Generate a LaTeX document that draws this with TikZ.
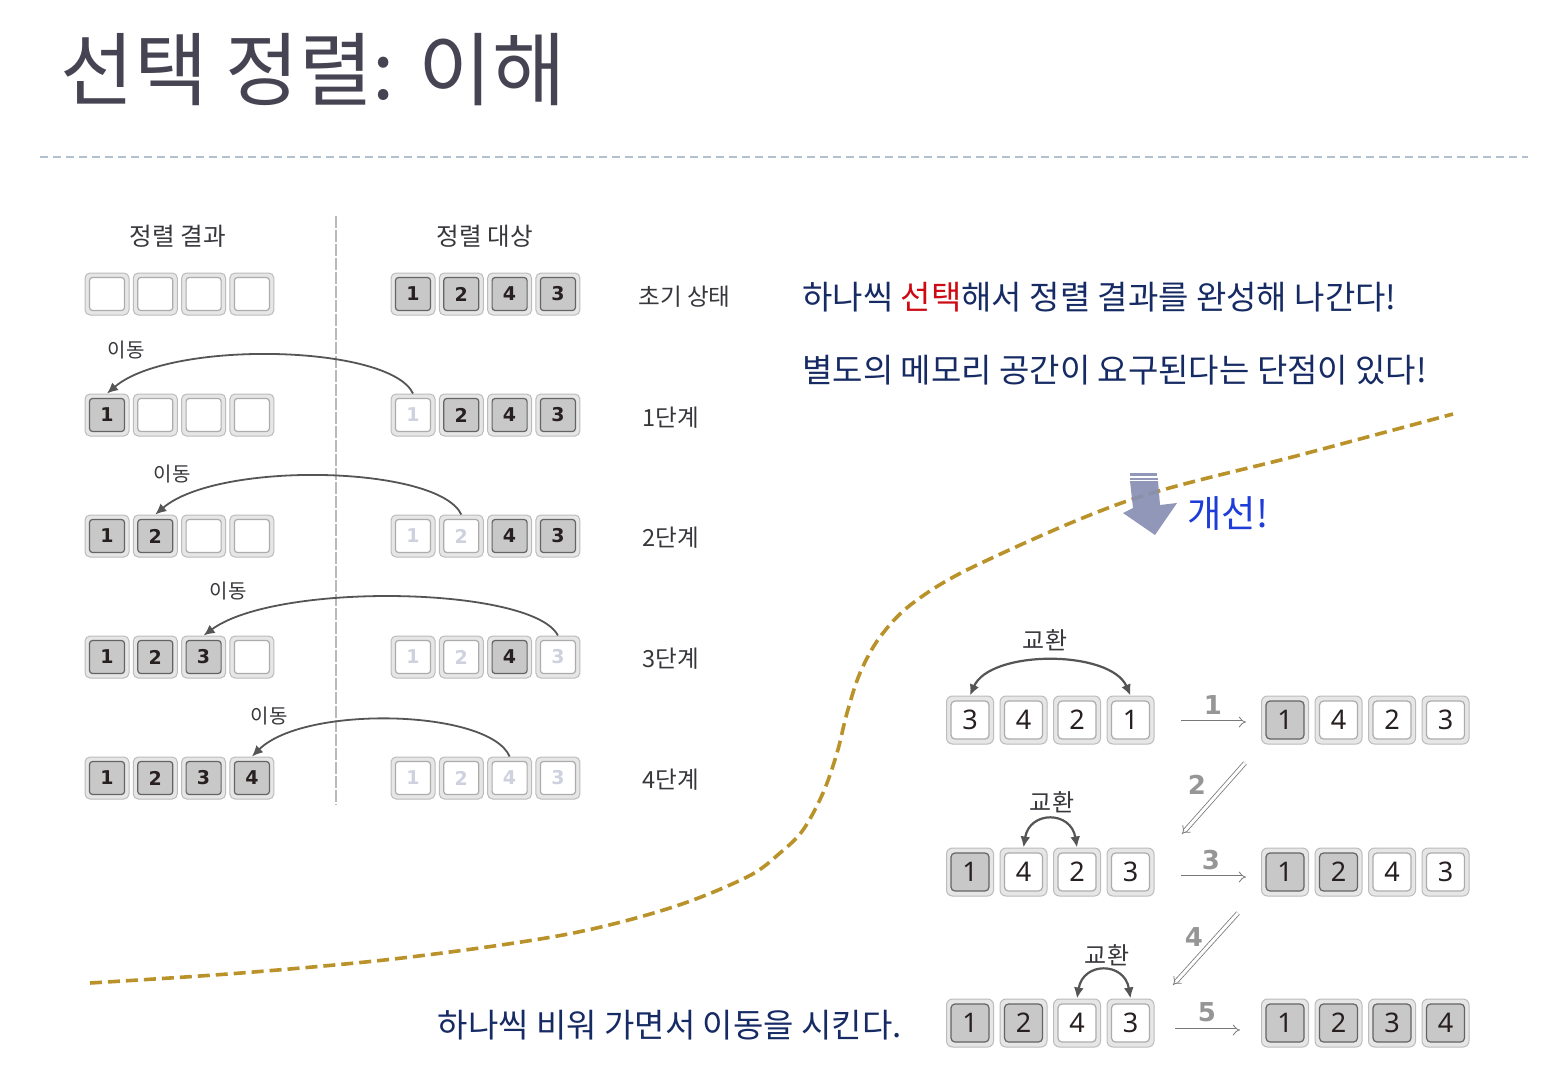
\documentclass[tikz,border=0pt]{standalone}
\usepackage{fontspec}
\setmainfont{Noto Sans CJK KR}
\newfontfamily\numfont{DejaVu Sans}
\newfontfamily\numfontb{Noto Sans}
\usetikzlibrary{arrows.meta}
\definecolor{titlec}{RGB}{70,68,82}
\definecolor{sepc}{RGB}{178,192,208}
\definecolor{navy}{RGB}{22,42,100}
\definecolor{redc}{RGB}{205,10,20}
\definecolor{bluec}{RGB}{30,60,215}
\definecolor{goldc}{RGB}{186,146,42}
\definecolor{arrowc}{RGB}{135,143,180}
\definecolor{txtc}{RGB}{55,55,60}
\definecolor{linec}{RGB}{85,85,85}
\definecolor{outerfill}{RGB}{230,230,230}
\definecolor{outerdraw}{RGB}{188,188,188}
\definecolor{cellgray}{RGB}{200,200,200}
\definecolor{celldark}{RGB}{100,100,100}
\definecolor{celllight}{RGB}{172,172,172}
\definecolor{fadetext}{RGB}{205,210,222}
\definecolor{numdark}{RGB}{40,32,32}
\definecolor{vline}{RGB}{185,185,185}
\definecolor{implc}{RGB}{120,120,120}
\definecolor{digc}{RGB}{150,150,150}
\newcommand\lcell[5]{\node[louter] (#1o) at (#2,#3) {};\node[#5] (#1) at (#2,#3) {#4};}
\newcommand\bcell[5]{\node[bouter] (#1o) at (#2,#3) {};\node[#5] (#1) at (#2,#3) {#4};}
\begin{document}
\begin{tikzpicture}[x=0.5pt,y=-0.5pt,
  louter/.style={draw=outerdraw,fill=outerfill,rounded corners=2.5pt,minimum width=22pt,minimum height=21pt,inner sep=0pt,line width=0.5pt},
  linner/.style={minimum width=17.5pt,minimum height=16.5pt,inner sep=0pt,rounded corners=1.5pt,line width=0.6pt,font=\numfont\bfseries\fontsize{9.5}{10}\selectfont},
  lact/.style={linner,fill=cellgray,draw=celldark,text=numdark},
  lemp/.style={linner,fill=white,draw=celllight},
  lfad/.style={linner,fill=white,draw=celllight,text=fadetext},
  bouter/.style={draw=outerdraw,fill=outerfill,rounded corners=3pt,minimum width=23.5pt,minimum height=24pt,inner sep=0pt,line width=0.5pt},
  binner/.style={minimum width=19pt,minimum height=19pt,inner sep=0pt,rounded corners=2pt,line width=0.6pt,font=\numfontb\fontsize{13.5}{14}\selectfont,text=numdark},
  bact/.style={binner,fill=cellgray,draw=celldark},
  bwht/.style={binner,fill=white,draw=celllight},
  lbl/.style={inner sep=0pt,text=txtc},
  movearr/.style={draw=linec,line width=0.9pt,-{Latex[length=5.5pt,width=5pt]}},
  swaparr/.style={draw=linec,line width=1.1pt,{Latex[length=5.5pt,width=5pt]}-{Latex[length=5.5pt,width=5pt]}},
  implarr/.style={draw=implc,double=white,double distance=1.5pt,line width=0.4pt,-{Implies}},
  diglbl/.style={inner sep=0pt,text=digc,font=\numfont\bfseries\fontsize{13}{14}\selectfont}
]
\useasboundingbox[fill=white] (0,0) rectangle (1568,1086);

% title and separator
\node[anchor=base west,inner sep=0pt,text=titlec,font=\fontsize{40}{44}\selectfont] (title) at (60,100) {선택 정렬: 이해};
\coordinate (sepl) at (40,157);
\coordinate (sepr) at (1528,157);
\draw[sepc,line width=0.6pt,dash pattern=on 4pt off 2.5pt] (sepl) -- (sepr);

% left diagram headers and divider
\node[lbl,font=\fontsize{12.3}{13}\selectfont] (h1) at (178,236) {정렬 결과};
\node[lbl,font=\fontsize{12.3}{13}\selectfont] (h2) at (485,236) {정렬 대상};
\coordinate (vt) at (336,216);
\coordinate (vb) at (336,805);
\draw[vline,line width=1.3pt,dash pattern=on 6pt off 1pt] (vt) -- (vb);

% row 0
\foreach \t/\s [count=\i] in {/lemp,/lemp,/lemp,/lemp}{\pgfmathsetmacro\xx{107+48.3*(\i-1)}\lcell{L0\i}{\xx}{294}{\t}{\s}}
\foreach \t/\s [count=\i] in {1/lact,2/lact,4/lact,3/lact}{\pgfmathsetmacro\xx{413+48.3*(\i-1)}\lcell{R0\i}{\xx}{294}{\t}{\s}}
% row 1
\foreach \t/\s [count=\i] in {1/lact,/lemp,/lemp,/lemp}{\pgfmathsetmacro\xx{107+48.3*(\i-1)}\lcell{L1\i}{\xx}{415}{\t}{\s}}
\foreach \t/\s [count=\i] in {1/lfad,2/lact,4/lact,3/lact}{\pgfmathsetmacro\xx{413+48.3*(\i-1)}\lcell{R1\i}{\xx}{415}{\t}{\s}}
% row 2
\foreach \t/\s [count=\i] in {1/lact,2/lact,/lemp,/lemp}{\pgfmathsetmacro\xx{107+48.3*(\i-1)}\lcell{L2\i}{\xx}{536}{\t}{\s}}
\foreach \t/\s [count=\i] in {1/lfad,2/lfad,4/lact,3/lact}{\pgfmathsetmacro\xx{413+48.3*(\i-1)}\lcell{R2\i}{\xx}{536}{\t}{\s}}
% row 3
\foreach \t/\s [count=\i] in {1/lact,2/lact,3/lact,/lemp}{\pgfmathsetmacro\xx{107+48.3*(\i-1)}\lcell{L3\i}{\xx}{657}{\t}{\s}}
\foreach \t/\s [count=\i] in {1/lfad,2/lfad,4/lact,3/lfad}{\pgfmathsetmacro\xx{413+48.3*(\i-1)}\lcell{R3\i}{\xx}{657}{\t}{\s}}
% row 4
\foreach \t/\s [count=\i] in {1/lact,2/lact,3/lact,4/lact}{\pgfmathsetmacro\xx{107+48.3*(\i-1)}\lcell{L4\i}{\xx}{778}{\t}{\s}}
\foreach \t/\s [count=\i] in {1/lfad,2/lfad,4/lfad,3/lfad}{\pgfmathsetmacro\xx{413+48.3*(\i-1)}\lcell{R4\i}{\xx}{778}{\t}{\s}}

% step labels
\node[lbl,anchor=west,font=\fontsize{11.8}{13}\selectfont] (s0) at (638,297) {초기 상태};
\node[lbl,anchor=west,font=\fontsize{11.8}{13}\selectfont] (s1) at (642,418) {1단계};
\node[lbl,anchor=west,font=\fontsize{11.8}{13}\selectfont] (s2) at (642,538) {2단계};
\node[lbl,anchor=west,font=\fontsize{11.8}{13}\selectfont] (s3) at (642,659) {3단계};
\node[lbl,anchor=west,font=\fontsize{11.8}{13}\selectfont] (s4) at (642,780) {4단계};

% move arcs
\draw[movearr] (R11o.north) .. controls +(-23,-49) and +(63,-54) .. (L11o.north);
\draw[movearr] (R22o.north) .. controls +(-23,-49) and +(63,-54) .. (L22o.north);
\draw[movearr] (R34o.north) .. controls +(-25,-49) and +(73,-54) .. (L33o.north);
\draw[movearr] (R43o.north) .. controls +(-20,-47) and +(53,-52) .. (L44o.north);
\node[lbl,font=\fontsize{10}{11}\selectfont] (m1) at (126,350) {이동};
\node[lbl,font=\fontsize{10}{11}\selectfont] (m2) at (172,474) {이동};
\node[lbl,font=\fontsize{10}{11}\selectfont] (m3) at (228,591) {이동};
\node[lbl,font=\fontsize{10}{11}\selectfont] (m4) at (269,716) {이동};

% right texts
\node[anchor=west,inner sep=0pt,text=navy,font=\fontsize{16.5}{18}\selectfont] (t1) at (802,297) {하나씩 \textcolor{redc}{선택}해서 정렬 결과를 완성해 나간다!};
\node[anchor=west,inner sep=0pt,text=navy,font=\fontsize{16.5}{18}\selectfont] (t2) at (802,370) {별도의 메모리 공간이 요구된다는 단점이 있다!};

% gold dashed curve
\draw[goldc,line width=1.8pt,dash pattern=on 6pt off 3pt] plot[smooth,tension=0.55] coordinates {(90,983) (241,973) (402,958) (563,935) (670,908) (747,877) (780,853) (803,830) (823,793) (837,753) (847,713) (860,673) (880,637) (913,603) (977,565) (1130,500) (1300,455) (1453,414)};

% improvement arrow
\fill[arrowc,opacity=0.92] (1130,481) -- (1158,481) -- (1160,505) -- (1177,503) -- (1155,535) -- (1123,513) -- (1133,508) -- cycle;
\fill[arrowc,opacity=0.92] (1130,473) rectangle (1157,475.5);
\fill[arrowc,opacity=0.92] (1130,477.5) rectangle (1158,479.5);
\node[anchor=west,inner sep=0pt,text=bluec,font=\fontsize{18.7}{20}\selectfont] (gs) at (1187,513) {개선!};

% bottom-right rows
\foreach \t/\s [count=\i] in {3/bwht,4/bwht,2/bwht,1/bwht}{\pgfmathsetmacro\xx{970+53.5*(\i-1)}\bcell{AL\i}{\xx}{720}{\t}{\s}}
\foreach \t/\s [count=\i] in {1/bact,4/bwht,2/bwht,3/bwht}{\pgfmathsetmacro\xx{1285+53.5*(\i-1)}\bcell{AR\i}{\xx}{720}{\t}{\s}}
\foreach \t/\s [count=\i] in {1/bact,4/bwht,2/bwht,3/bwht}{\pgfmathsetmacro\xx{970+53.5*(\i-1)}\bcell{BL\i}{\xx}{872}{\t}{\s}}
\foreach \t/\s [count=\i] in {1/bact,2/bact,4/bwht,3/bwht}{\pgfmathsetmacro\xx{1285+53.5*(\i-1)}\bcell{BR\i}{\xx}{872}{\t}{\s}}
\foreach \t/\s [count=\i] in {1/bact,2/bact,4/bwht,3/bwht}{\pgfmathsetmacro\xx{970+53.5*(\i-1)}\bcell{CL\i}{\xx}{1023}{\t}{\s}}
\foreach \t/\s [count=\i] in {1/bact,2/bact,3/bact,4/bact}{\pgfmathsetmacro\xx{1285+53.5*(\i-1)}\bcell{CR\i}{\xx}{1023}{\t}{\s}}

% swap arcs
\draw[swaparr] (AL1o.north) .. controls +(20,-46) and +(-20,-46) .. (AL4o.north);
\draw[swaparr] (BL2o.north) .. controls +(6,-37) and +(-6,-37) .. (BL3o.north);
\draw[swaparr] (CL3o.north) .. controls +(6,-37) and +(-6,-37) .. (CL4o.north);
\node[lbl,font=\fontsize{12}{13}\selectfont] (x1) at (1045,640) {교환};
\node[lbl,font=\fontsize{12}{13}\selectfont] (x2) at (1052,802) {교환};
\node[lbl,font=\fontsize{12}{13}\selectfont] (x3) at (1107,955) {교환};

% step arrows
\coordinate (a1s) at (1181,722); \coordinate (a1e) at (1246,722);
\coordinate (a2s) at (1245,763); \coordinate (a2e) at (1182,834);
\coordinate (a3s) at (1181,877); \coordinate (a3e) at (1246,877);
\coordinate (a4s) at (1238,913); \coordinate (a4e) at (1173,985);
\coordinate (a5s) at (1175,1030); \coordinate (a5e) at (1240,1030);
\draw[implarr] (a1s) -- (a1e);
\draw[implarr] (a2s) -- (a2e);
\draw[implarr] (a3s) -- (a3e);
\draw[implarr] (a4s) -- (a4e);
\draw[implarr] (a5s) -- (a5e);
\node[diglbl] (d1) at (1213,705) {1};
\node[diglbl] (d2) at (1197,785) {2};
\node[diglbl] (d3) at (1211,860) {3};
\node[diglbl] (d4) at (1194,937) {4};
\node[diglbl] (d5) at (1207,1012) {5};

% bottom text
\node[anchor=east,inner sep=0pt,text=navy,font=\fontsize{16.5}{18}\selectfont] (bt) at (902,1025) {하나씩 비워 가면서 이동을 시킨다.};
\end{tikzpicture}
\end{document}
